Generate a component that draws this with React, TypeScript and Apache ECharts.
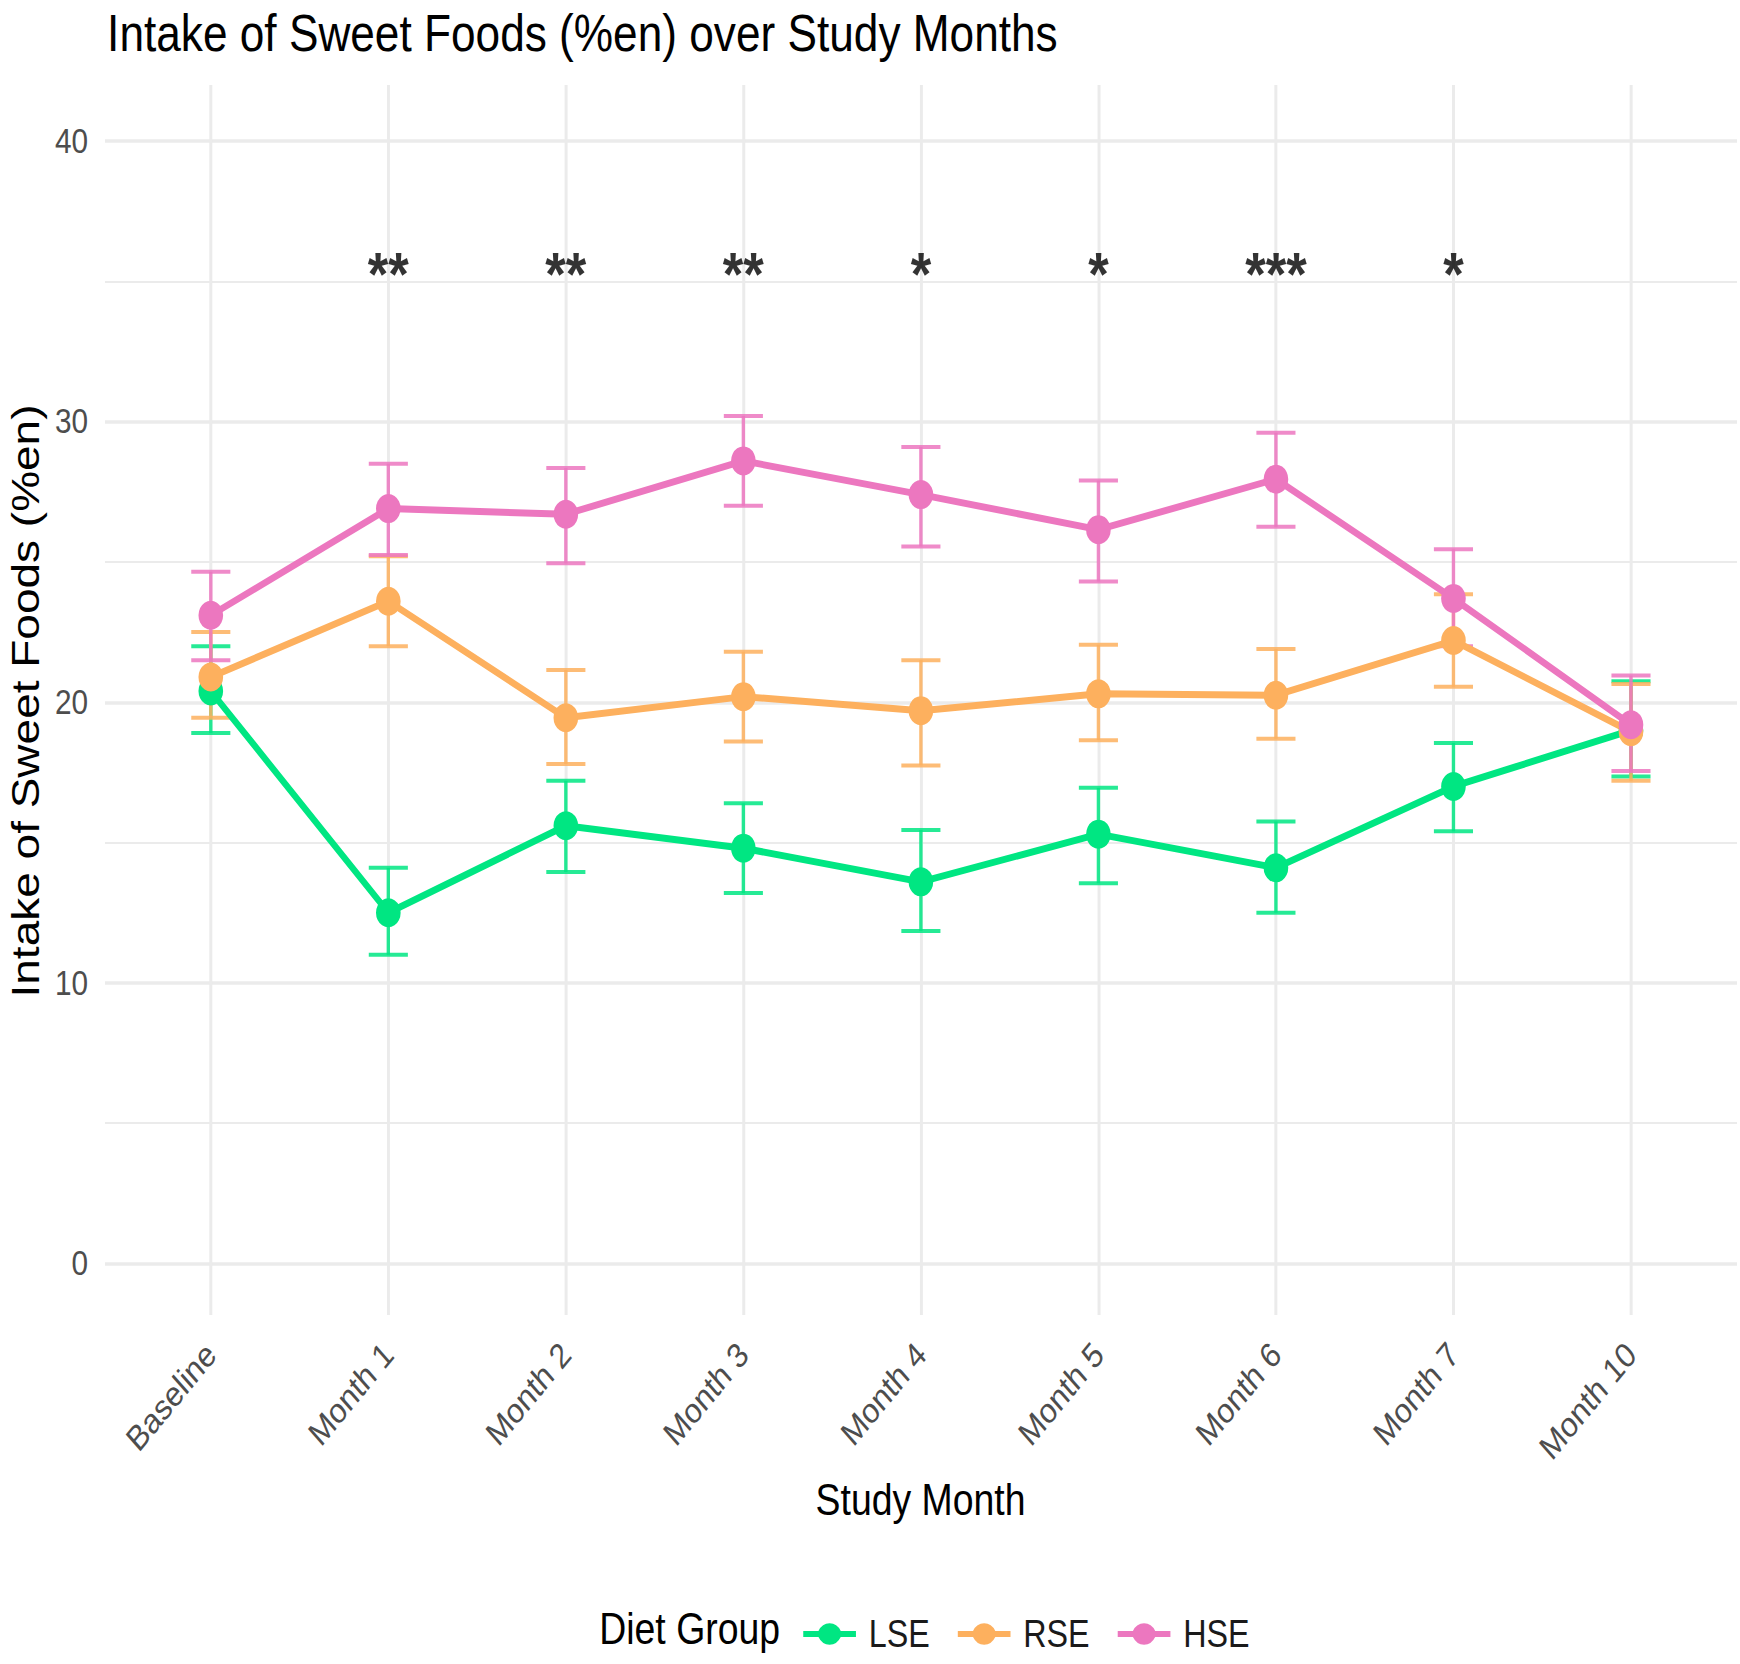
import React, { useEffect, useRef } from "react";
import * as echarts from "echarts";

// ---- data ----
const categories = ["Baseline", "Month 1", "Month 2", "Month 3", "Month 4", "Month 5", "Month 6", "Month 7", "Month 10"];

const lseMean = [20.4, 12.5, 15.6, 14.8, 13.6, 15.3, 14.1, 17.0, 19.0];
const lseLow = [18.9, 11.0, 13.95, 13.2, 11.85, 13.55, 12.5, 15.4, 17.35];
const lseHigh = [22.0, 14.1, 17.2, 16.4, 15.45, 16.95, 15.75, 18.55, 20.75];

const rseMean = [20.9, 23.6, 19.45, 20.2, 19.7, 20.3, 20.25, 22.2, 18.95];
const rseLow = [19.45, 22.0, 17.8, 18.6, 17.75, 18.65, 18.7, 20.55, 17.2];
const rseHigh = [22.5, 25.2, 21.15, 21.8, 21.5, 22.05, 21.9, 23.85, 20.65];

const hseMean = [23.1, 26.9, 26.7, 28.6, 27.4, 26.15, 27.95, 23.7, 19.2];
const hseLow = [21.5, 25.25, 24.95, 27.0, 25.55, 24.3, 26.25, 22.0, 17.55];
const hseHigh = [24.65, 28.5, 28.35, 30.2, 29.1, 27.9, 29.6, 25.45, 20.95];

const significance = ["", "**", "**", "**", "*", "*", "***", "*", ""];
const sigLevel = 35;

const yTicks = { min: 0, max: 40, step: 10 };

// ---- styling ----
const FONT = "'Liberation Sans', Arial, Helvetica, sans-serif";
const GRID_COLOR = "#EBEBEB";
const COLORS = { LSE: "#00E682", RSE: "#FDB05E", HSE: "#EC77BF" };
const SX = 0.85; // horizontal compression of the whole figure
const W = Math.round(1740 / SX);
const H = 1664;

// line segment with a dot in the middle, used as the legend key
const LEGEND_ICON =
  "path://M0,12 H17.9 A15,15 0 0 1 44.1,12 H62 V18 H44.1 A15,15 0 0 1 17.9,18 H0 Z";

function errorBars(color: string) {
  return (params: any, api: any) => {
    const x = api.value(0);
    const lo = api.coord([x, api.value(1)]);
    const hi = api.coord([x, api.value(2)]);
    const hw = 23;
    const style = { stroke: color, lineWidth: 4, opacity: 0.85 };
    return {
      type: "group",
      children: [
        { type: "line", shape: { x1: lo[0], y1: lo[1], x2: hi[0], y2: hi[1] }, style },
        { type: "line", shape: { x1: lo[0] - hw, y1: lo[1], x2: lo[0] + hw, y2: lo[1] }, style },
        { type: "line", shape: { x1: hi[0] - hw, y1: hi[1], x2: hi[0] + hw, y2: hi[1] }, style },
      ],
    };
  };
}

function barSeries(name: string, low: number[], high: number[]) {
  return {
    type: "custom",
    name: name + " range",
    xAxisIndex: 1,
    yAxisIndex: 1,
    renderItem: errorBars((COLORS as any)[name]),
    encode: { x: 0, y: [1, 2] },
    data: categories.map((_, i) => [i, low[i], high[i]]),
    z: 3,
  };
}

function lineSeries(name: string, mean: number[]) {
  const color = (COLORS as any)[name];
  return {
    type: "line",
    name,
    xAxisIndex: 1,
    yAxisIndex: 1,
    data: mean,
    symbol: "circle",
    symbolSize: 29,
    showSymbol: true,
    itemStyle: { color },
    lineStyle: { color, width: 7 },
    z: 4,
  };
}

const sigData = significance
  .map((s, i) => ({ value: [i, sigLevel], name: s }))
  .filter((d) => d.name);

const option: any = {
  animation: false,
  backgroundColor: "#ffffff",
  textStyle: { fontFamily: FONT },
  title: {
    text: "Intake of Sweet Foods (%en) over Study Months",
    left: 121,
    top: 2,
    textStyle: { fontSize: 52, fontWeight: "normal", color: "#000", fontFamily: FONT },
  },
  grid: [
    { left: 123.5, right: W - 2043.5, top: 141, bottom: H - 1263.5 },
    { left: 248, right: W - 1918.8, top: 141, bottom: H - 1263.5 },
    { left: 248, right: W - 1918.8, top: 85, bottom: H - 1315 },
  ],
  xAxis: [
    { gridIndex: 0, type: "value", show: false, min: 0, max: 1 },
    {
      gridIndex: 1,
      type: "category",
      data: categories,
      boundaryGap: false,
      axisLine: { show: false },
      axisTick: { show: false },
      splitLine: { show: false },
      axisLabel: { rotate: 46, interval: 0, fontSize: 35, color: "#4D4D4D", margin: 85, fontFamily: FONT },
    },
    {
      gridIndex: 2,
      type: "category",
      data: categories,
      boundaryGap: false,
      axisLine: { show: false },
      axisTick: { show: false },
      axisLabel: { show: false },
      splitLine: { show: true, interval: 0, lineStyle: { color: GRID_COLOR, width: 3.5 } },
    },
  ],
  yAxis: [
    {
      gridIndex: 0,
      type: "value",
      min: yTicks.min,
      max: yTicks.max,
      interval: yTicks.step,
      axisLine: { show: false },
      axisTick: { show: false },
      axisLabel: { fontSize: 35, color: "#4D4D4D", margin: 20, fontFamily: FONT },
      splitLine: { show: true, lineStyle: { color: GRID_COLOR, width: 3.5 } },
      minorTick: { show: false, splitNumber: 2 },
      minorSplitLine: { show: true, lineStyle: { color: GRID_COLOR, width: 1.8 } },
    },
    { gridIndex: 1, type: "value", min: yTicks.min, max: yTicks.max, show: false },
    { gridIndex: 2, type: "value", min: 0, max: 1, show: false },
  ],
  legend: {
    data: ["LSE", "RSE", "HSE"],
    left: 940,
    top: 1610,
    itemWidth: 62,
    itemHeight: 30,
    itemGap: 33,
    icon: LEGEND_ICON,
    selectedMode: false,
    textStyle: { fontSize: 38, color: "#1A1A1A", padding: [0, 0, 0, 10], fontFamily: FONT },
  },
  graphic: [
    {
      type: "text",
      x: 30,
      y: 701,
      rotation: Math.PI / 2,
      style: {
        text: "Intake of Sweet Foods (%en)",
        fontSize: 46,
        fontFamily: FONT,
        fill: "#000",
        align: "center",
        verticalAlign: "middle",
        textAlign: "center",
        textVerticalAlign: "middle",
      },
    },
    {
      type: "text",
      x: 1083,
      y: 1500,
      style: {
        text: "Study Month",
        fontSize: 44,
        fontFamily: FONT,
        fill: "#000",
        align: "center",
        verticalAlign: "middle",
        textAlign: "center",
        textVerticalAlign: "middle",
      },
    },
    {
      type: "text",
      x: 705,
      y: 1629,
      style: {
        text: "Diet Group",
        fontSize: 44,
        fontFamily: FONT,
        fill: "#000",
        align: "left",
        verticalAlign: "middle",
        textAlign: "left",
        textVerticalAlign: "middle",
      },
    },
  ],
  series: [
    barSeries("LSE", lseLow, lseHigh),
    barSeries("RSE", rseLow, rseHigh),
    barSeries("HSE", hseLow, hseHigh),
    lineSeries("LSE", lseMean),
    lineSeries("RSE", rseMean),
    lineSeries("HSE", hseMean),
    {
      type: "scatter",
      name: "significance",
      xAxisIndex: 1,
      yAxisIndex: 1,
      symbolSize: 1,
      itemStyle: { color: "rgba(0,0,0,0)" },
      data: sigData,
      label: {
        show: true,
        position: "inside",
        offset: [0, -8],
        formatter: "{b}",
        fontSize: 62,
        fontWeight: "bold",
        color: "#000",
        fontFamily: FONT,
      },
      z: 5,
    },
  ],
};

export default function App() {
  const ref = useRef<HTMLDivElement>(null);
  useEffect(() => {
    if (!ref.current) return;
    const chart = echarts.init(ref.current, null, { renderer: "svg" });
    chart.setOption(option);
    return () => chart.dispose();
  }, []);
  return (
    <div
      style={{
        position: "absolute",
        left: 0,
        top: 0,
        width: 1740,
        height: H,
        overflow: "hidden",
        background: "#fff",
      }}
    >
      <div
        ref={ref}
        style={{ width: W, height: H, transform: `scaleX(${SX})`, transformOrigin: "0 0" }}
      />
    </div>
  );
}
